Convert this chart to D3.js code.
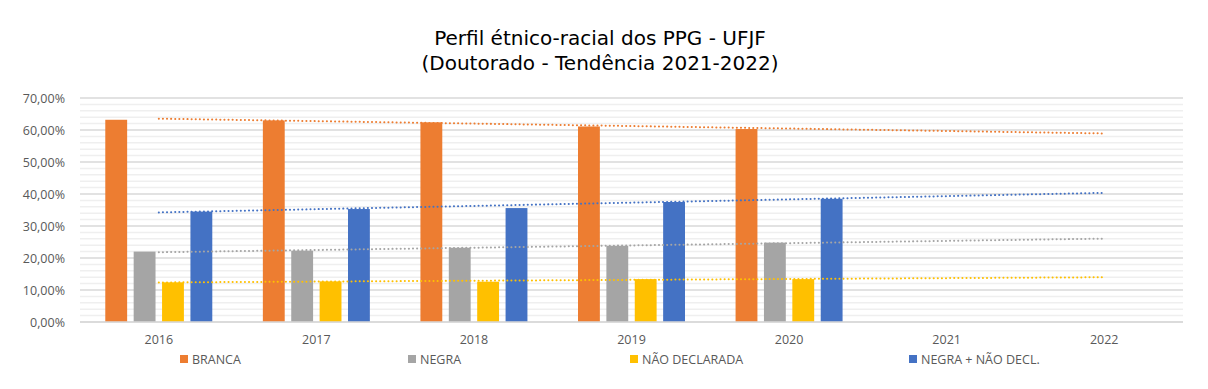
<!DOCTYPE html>
<html>
<head>
<meta charset="utf-8">
<script src="https://cdn.jsdelivr.net/npm/d3@7"></script>
<style>
  body { margin: 0; background: #fff; }
  svg { display: block; }
</style>
</head>
<body>
<div id="chart"></div>
<script>
// data
const years = ["2016", "2017", "2018", "2019", "2020", "2021", "2022"];
const seriesNames = ["BRANCA", "NEGRA", "NÃO DECLARADA", "NEGRA + NÃO DECL."];
const branca = [63.2, 63.0, 62.4, 61.1, 60.3];
const negra = [22.0, 22.3, 23.2, 23.8, 24.8];
const naoDeclarada = [12.4, 12.7, 12.6, 13.4, 13.4];
const negraNaoDecl = [34.5, 35.3, 35.6, 37.5, 38.5];
const yTicks = [0, 10, 20, 30, 40, 50, 60, 70];
const colors = ["#ED7D31", "#A5A5A5", "#FFC000", "#4472C4"];

const seriesValues = [branca, negra, naoDeclarada, negraNaoDecl];

const width = 1208, height = 389;
const plotLeft = 80, plotRight = 1183, plotTop = 98, plotBottom = 322;

const svg = d3.select("#chart").append("svg")
    .attr("width", width)
    .attr("height", height);

const fontAxis = "'Open Sans', sans-serif";

// title
const title = svg.append("text")
    .attr("text-anchor", "middle")
    .attr("font-family", "'DejaVu Sans', sans-serif")
    .attr("font-size", 20)
    .attr("fill", "#000");
title.append("tspan").attr("x", 600).attr("y", 45).text("Perfil étnico-racial dos PPG - UFJF");
title.append("tspan").attr("x", 600).attr("y", 70).text("(Doutorado - Tendência 2021-2022)");

const x0 = d3.scaleBand().domain(years).range([plotLeft, plotRight]).padding(0);
const groupW = 107;
const x1 = d3.scaleBand().domain(seriesNames)
    .range([(x0.bandwidth() - groupW) / 2, (x0.bandwidth() + groupW) / 2])
    .paddingInner(0.23);
const y = d3.scaleLinear().domain([0, 70]).range([plotBottom, plotTop]);

// minor gridlines (every 2%)
svg.append("g").selectAll("line")
    .data(d3.range(0, 70.01, 2).filter(v => v % 10 !== 0))
    .join("line")
    .attr("x1", plotLeft).attr("x2", plotRight)
    .attr("y1", d => y(d)).attr("y2", d => y(d))
    .attr("stroke", "#efefef").attr("stroke-width", 1.5);

// major gridlines
svg.append("g").selectAll("line")
    .data(yTicks)
    .join("line")
    .attr("x1", plotLeft).attr("x2", plotRight)
    .attr("y1", d => y(d)).attr("y2", d => y(d))
    .attr("stroke", "#d9d9d9").attr("stroke-width", 1.5);

// y axis
const yAxis = svg.append("g")
    .attr("transform", `translate(${plotLeft - 12},0)`)
    .call(d3.axisLeft(y).tickValues(yTicks).tickSize(0)
        .tickFormat(d => d3.format(".2f")(d).replace(".", ",") + "%"));
yAxis.select(".domain").remove();
yAxis.selectAll("text")
    .attr("font-family", fontAxis).attr("font-size", 12.5).attr("fill", "#595959").attr("dx", 0);

// x axis
const xAxis = svg.append("g")
    .attr("transform", `translate(0,${plotBottom})`)
    .call(d3.axisBottom(x0).tickSize(0).tickPadding(13));
xAxis.select(".domain").remove();
xAxis.selectAll("text")
    .attr("font-family", fontAxis).attr("font-size", 12.5).attr("fill", "#595959");

// bars
const groups = svg.append("g").selectAll("g")
    .data(years.slice(0, branca.length))
    .join("g")
    .attr("transform", d => `translate(${x0(d)},0)`);

groups.selectAll("rect")
    .data((d, i) => seriesNames.map((s, k) => ({ s, k, v: seriesValues[k][i] })))
    .join("rect")
    .attr("x", d => x1(d.s))
    .attr("width", x1.bandwidth())
    .attr("y", d => y(d.v))
    .attr("height", d => y(0) - y(d.v))
    .attr("fill", d => colors[d.k]);

// linear trendlines, forecast to 2022
function trend(vals) {
    const n = vals.length;
    const mx = d3.mean(d3.range(n)), my = d3.mean(vals);
    const b = d3.sum(vals, (v, i) => (i - mx) * (v - my)) / d3.sum(d3.range(n), i => (i - mx) ** 2);
    const a = my - b * mx;
    return [0, years.length - 1].map(i => [i, a + b * i]);
}
const cx = i => x0(years[i]) + x0.bandwidth() / 2;
const line = d3.line().x(d => cx(d[0])).y(d => y(d[1]));

svg.append("g").selectAll("path")
    .data(seriesValues.map((v, k) => ({ k, pts: trend(v) })))
    .join("path")
    .attr("d", d => line(d.pts))
    .attr("fill", "none")
    .attr("stroke", d => colors[d.k])
    .attr("stroke-width", 2)
    .attr("stroke-linecap", "round")
    .attr("stroke-dasharray", "0.1 4");

// bottom axis line
svg.append("line")
    .attr("x1", plotLeft).attr("x2", plotRight)
    .attr("y1", plotBottom).attr("y2", plotBottom)
    .attr("stroke", "#d9d9d9").attr("stroke-width", 1.5);

// legend
const legendX = [180, 408, 630, 909];
const legend = svg.append("g").selectAll("g")
    .data(seriesNames)
    .join("g")
    .attr("transform", (d, i) => `translate(${legendX[i]},355)`);
legend.append("rect")
    .attr("width", 8).attr("height", 8)
    .attr("fill", (d, i) => colors[i]);
legend.append("text")
    .attr("x", 12).attr("y", 8.5)
    .attr("font-family", fontAxis).attr("font-size", 12.5).attr("fill", "#595959")
    .text(d => d);
</script>
</body>
</html>
